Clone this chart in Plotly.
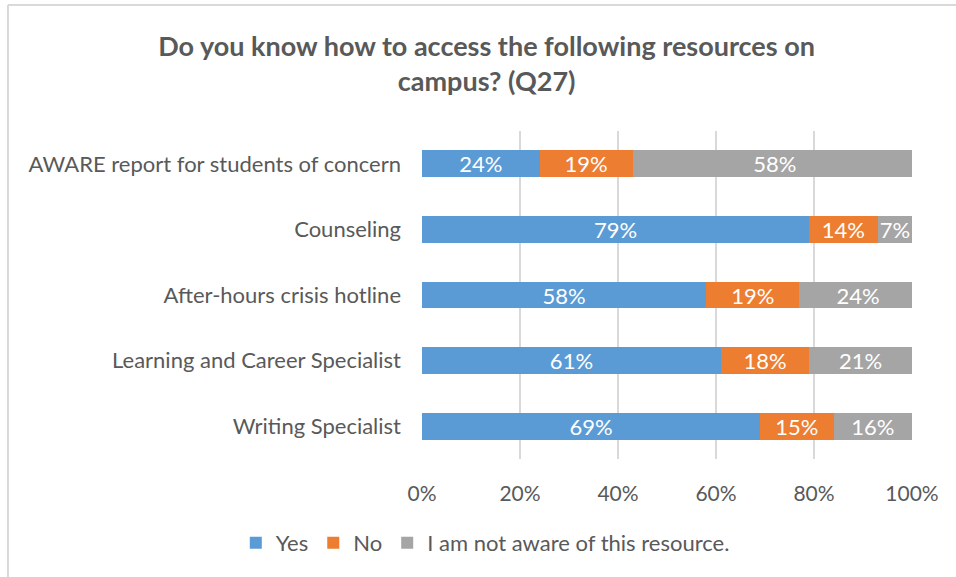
import plotly.graph_objects as go

# Survey question Q27: awareness of campus resources (shares of respondents)
resources = [
    "AWARE report for students of concern",
    "Counseling",
    "After-hours crisis hotline",
    "Learning and Career Specialist",
    "Writing Specialist",
]
yes = [0.24, 0.79, 0.58, 0.61, 0.69]
no = [0.19, 0.14, 0.19, 0.18, 0.15]
not_aware = [0.58, 0.07, 0.24, 0.21, 0.16]

series_names = ["Yes", "No", "I am not aware of this resource."]
series_colors = ["#5B9BD5", "#ED7D31", "#A5A5A5"]
tick_values = [0, 0.2, 0.4, 0.6, 0.8, 1.0]
tick_labels = ["0%", "20%", "40%", "60%", "80%", "100%"]

FONT = "Lato, Open Sans, sans-serif"
TEXT_GREY = "#595959"

fig = go.Figure()
for name, vals, color in zip(series_names, [yes, no, not_aware], series_colors):
    fig.add_trace(go.Bar(
        y=resources,
        x=vals,
        name=name,
        orientation="h",
        marker=dict(color=color, line=dict(width=0)),
        texttemplate="%{x:.0%}",
        textposition="inside",
        insidetextanchor="middle",
        textangle=0,
        constraintext="none",
        textfont=dict(color="white", size=22, family=FONT),
    ))

fig.update_layout(
    width=956,
    height=577,
    barmode="stack",
    bargap=0.59,
    plot_bgcolor="white",
    paper_bgcolor="white",
    margin=dict(l=422, r=44, t=131, b=118, autoexpand=False),
    font=dict(family=FONT, color=TEXT_GREY, size=21),
    title=dict(
        text="<b>Do you know how to access the following resources on<br>campus? (Q27)</b>",
        x=0.509,
        xanchor="center",
        y=0.903,
        yanchor="middle",
        font=dict(size=27, color=TEXT_GREY, family=FONT),
    ),
    legend=dict(
        orientation="h",
        x=-0.38,
        xanchor="left",
        y=-0.256,
        yanchor="middle",
        font=dict(size=22, color=TEXT_GREY, family=FONT),
        itemwidth=30,
        traceorder="normal",
    ),
    xaxis=dict(
        range=[0, 1],
        tickvals=tick_values,
        ticktext=tick_labels,
        showgrid=True,
        gridcolor="#D9D9D9",
        gridwidth=2,
        zeroline=False,
        showline=False,
        ticks="",
        ticklabelstandoff=20,
        tickfont=dict(size=21, color=TEXT_GREY),
        fixedrange=True,
    ),
    yaxis=dict(
        categoryorder="array",
        categoryarray=resources[::-1],
        showgrid=False,
        zeroline=False,
        showline=False,
        ticks="",
        ticklabelstandoff=20,
        tickfont=dict(size=22, color=TEXT_GREY),
    ),
    shapes=[
        # chart frame (left and top edges visible)
        dict(type="line", xref="paper", yref="paper",
             x0=-0.845, x1=1.2, y0=1.384, y1=1.384,
             line=dict(color="#D9D9D9", width=2)),
        dict(type="line", xref="paper", yref="paper",
             x0=-0.845, x1=-0.845, y0=1.384, y1=-0.5,
             line=dict(color="#D9D9D9", width=2)),
    ],
)

fig.write_html("out.html")
